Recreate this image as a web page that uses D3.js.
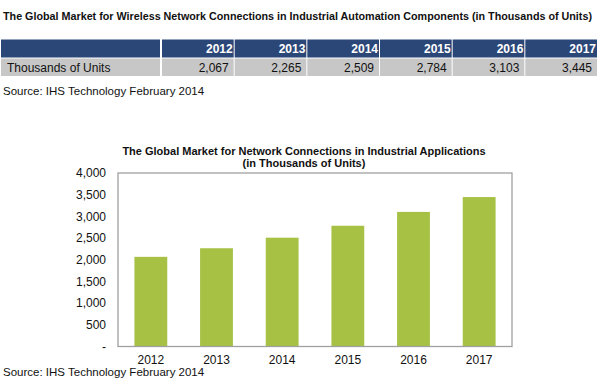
<!DOCTYPE html>
<html><head><meta charset="utf-8">
<script src="https://cdn.jsdelivr.net/npm/d3@7"></script>
<style>body{margin:0;background:#fff;}svg{display:block;font-family:Arial,"Liberation Sans",sans-serif;}</style>
</head><body>
<svg id="c" width="600" height="390"></svg>
<script>
const years = ["2012","2013","2014","2015","2016","2017"];
const units = [2067, 2265, 2509, 2784, 3103, 3445];
const yTicks = [0, 500, 1000, 1500, 2000, 2500, 3000, 3500, 4000];
const topTitle = "The Global Market for Wireless Network Connections in Industrial Automation Components (in Thousands of Units)";
const rowLabel = "Thousands of Units";
const source = "Source: IHS Technology February 2014";
const chartTitle = ["The Global Market for Network Connections in Industrial Applications", "(in Thousands of Units)"];

const svg = d3.select("#c");
const fmt = d3.format(",");

// Top title: size chosen so its natural width fits
const tt = svg.append("text").attr("x", 3).attr("y", 20).attr("font-size", 12).attr("font-weight", "bold")
  .attr("fill", "#111").text(topTitle);
const w = tt.node().getComputedTextLength();
if (w > 590) tt.attr("font-size", 12 * 590 / w);

// Table
const colX = d3.scaleBand().domain(years).range([161, 597]).paddingInner(0);
const hdrY = 39.5, hdrH = 18, rowY = 58.5, rowH = 17.5;
svg.append("rect").attr("x", 1).attr("y", hdrY).attr("width", 159).attr("height", hdrH).attr("fill", "#2b4778");
svg.append("rect").attr("x", 1).attr("y", rowY).attr("width", 159).attr("height", rowH).attr("fill", "#c7c7c7");
years.forEach((yr, i) => {
  const x = colX(yr);
  svg.append("rect").attr("x", x + 1).attr("y", hdrY).attr("width", colX.bandwidth() - 1).attr("height", hdrH).attr("fill", "#2b4778");
  svg.append("rect").attr("x", x + 1).attr("y", rowY).attr("width", colX.bandwidth() - 1).attr("height", rowH).attr("fill", "#c7c7c7");
  svg.append("text").attr("x", x + colX.bandwidth() - 1).attr("y", hdrY + 13.5).attr("text-anchor", "end")
    .attr("font-size", 12).attr("font-weight", "bold").attr("fill", "#fff").text(yr);
  svg.append("text").attr("x", x + colX.bandwidth() - 5).attr("y", rowY + 13).attr("text-anchor", "end")
    .attr("font-size", 12).attr("fill", "#111").text(fmt(units[i]));
});
svg.append("text").attr("x", 7).attr("y", rowY + 13).attr("font-size", 12).attr("fill", "#111").text(rowLabel);
svg.append("text").attr("x", 3).attr("y", 95).attr("font-size", 11.5).attr("fill", "#111").text(source);

// Chart
const L = 118, R = 512, T = 173, B = 346.5;
const x = d3.scaleBand().domain(years).range([L, R]).paddingInner(0.5).paddingOuter(0.25);
const y = d3.scaleLinear().domain([0, 4000]).range([B, T]);

chartTitle.forEach((t, i) => {
  svg.append("text").attr("x", 304).attr("y", 155 + i * 12).attr("text-anchor", "middle")
    .attr("font-size", 11).attr("font-weight", "bold").attr("fill", "#111").text(t);
});

svg.append("g").selectAll("rect").data(units).join("rect")
  .attr("x", (d, i) => x(years[i])).attr("width", x.bandwidth())
  .attr("y", d => y(d)).attr("height", d => B - y(d)).attr("fill", "#a6c144");

svg.append("rect").attr("x", L).attr("y", T).attr("width", R - L).attr("height", B - T)
  .attr("fill", "none").attr("stroke", "#a0a0a0").attr("stroke-width", 1.3);

const yAxis = svg.append("g").attr("transform", `translate(${L},0)`)
  .call(d3.axisLeft(y).tickValues(yTicks).tickSize(0).tickPadding(12).tickFormat(d => d === 0 ? "-" : fmt(d)));
yAxis.select(".domain").remove();
yAxis.selectAll("text").attr("font-size", 12).attr("fill", "#111").attr("font-family", "Arial,'Liberation Sans',sans-serif");

const xAxis = svg.append("g").attr("transform", `translate(0,${B})`)
  .call(d3.axisBottom(x).tickSize(0).tickPadding(9));
xAxis.select(".domain").remove();
xAxis.selectAll("text").attr("font-size", 12).attr("fill", "#111").attr("font-family", "Arial,'Liberation Sans',sans-serif");

svg.append("text").attr("x", 3).attr("y", 376).attr("font-size", 11.5).attr("fill", "#111").text(source);
</script>
</body></html>
